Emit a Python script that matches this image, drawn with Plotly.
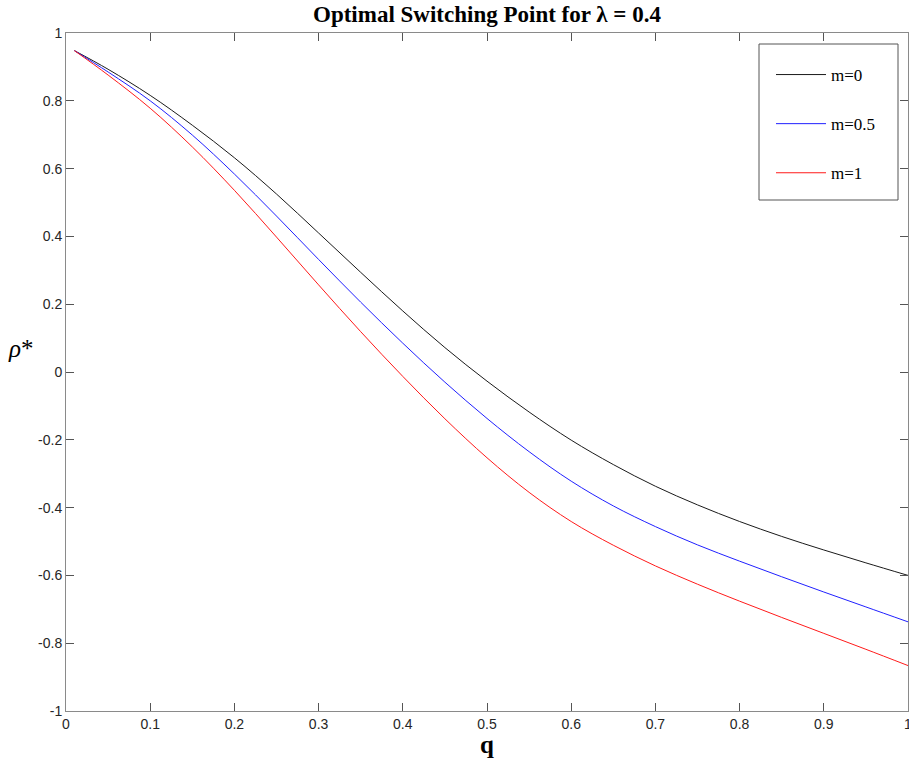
import plotly.graph_objects as go

q = [0.01, 0.05, 0.1, 0.15, 0.2, 0.25, 0.3, 0.35, 0.4, 0.45, 0.5,
     0.55, 0.6, 0.65, 0.7, 0.75, 0.8, 0.85, 0.9, 0.95, 1.0]
rho_m0 = [0.948, 0.893, 0.816, 0.728, 0.632, 0.525, 0.410, 0.294, 0.180, 0.072, -0.027,
          -0.118, -0.201, -0.273, -0.337, -0.392, -0.441, -0.485, -0.525, -0.563, -0.600]
rho_m05 = [0.948, 0.885, 0.800, 0.699, 0.584, 0.460, 0.332, 0.206, 0.085, -0.030, -0.137,
           -0.235, -0.322, -0.395, -0.456, -0.510, -0.558, -0.604, -0.649, -0.693, -0.737]
rho_m1 = [0.948, 0.876, 0.778, 0.664, 0.536, 0.398, 0.257, 0.119, -0.013, -0.138, -0.253,
          -0.355, -0.441, -0.511, -0.572, -0.626, -0.676, -0.724, -0.771, -0.818, -0.866]
series_names = ["m=0", "m=0.5", "m=1"]
series_colors = ["#1a1a1a", "#2020ff", "#ff1a1a"]
x_ticks = [0, 0.1, 0.2, 0.3, 0.4, 0.5, 0.6, 0.7, 0.8, 0.9, 1]
x_tick_labels = ["0", "0.1", "0.2", "0.3", "0.4", "0.5", "0.6", "0.7", "0.8", "0.9", "1"]
y_ticks = [-1, -0.8, -0.6, -0.4, -0.2, 0, 0.2, 0.4, 0.6, 0.8, 1]
y_tick_labels = ["-1", "-0.8", "-0.6", "-0.4", "-0.2", "0", "0.2", "0.4", "0.6", "0.8", "1"]

fig = go.Figure()
for name, ys, col in zip(series_names, [rho_m0, rho_m05, rho_m1], series_colors):
    fig.add_trace(go.Scatter(x=q, y=ys, mode="lines", name=name, legendgroup=name,
                             line=dict(color=col, width=1, shape="spline", smoothing=1.0)))

axis_common = dict(showline=True, linecolor="#8a8a8a", linewidth=1, mirror="ticks",
                   ticks="inside", ticklen=8, tickcolor="#555555", tickwidth=1,
                   showgrid=False, zeroline=False, automargin=False,
                   ticklabeloverflow="allow",
                   tickfont=dict(family="Liberation Sans, Arial, sans-serif", size=14, color="#262626"))

W, H = 909, 772
L, R, T, B = 66, 1, 33, 61
pw, ph = W - L - R, H - T - B


def px_x(x):
    return (x - L) / pw


def px_y(y):
    return 1 - (y - T) / ph


fig.update_layout(
    width=W, height=H,
    margin=dict(l=L, r=R, t=T, b=B, autoexpand=False),
    plot_bgcolor="white", paper_bgcolor="white",
    title=dict(text="<b>Optimal Switching Point for λ = 0.4</b>",
               x=0.5, xanchor="center", y=1 - 14 / H, yanchor="middle",
               xref="paper", yref="container",
               font=dict(family="Liberation Serif, Times New Roman, serif", size=23, color="black")),
    xaxis=dict(range=[0, 1], tickvals=x_ticks, ticktext=x_tick_labels, **axis_common),
    yaxis=dict(range=[-1, 1], tickvals=y_ticks, ticktext=y_tick_labels, **axis_common),
    legend=dict(x=px_x(771), xanchor="left", y=px_y(57), yanchor="top",
                bgcolor="rgba(0,0,0,0)", borderwidth=0,
                traceorder="grouped", tracegroupgap=24, itemwidth=50,
                font=dict(family="Liberation Serif, Times New Roman, serif", size=17, color="black")),
    shapes=[dict(type="rect", xref="paper", yref="paper",
                 x0=px_x(759), x1=px_x(898), y0=px_y(200), y1=px_y(44),
                 line=dict(color="#555555", width=1), fillcolor="white", layer="below")],
    annotations=[
        dict(text="<b>q</b>", xref="paper", yref="paper", x=0.5, y=0, yshift=-33,
             xanchor="center", yanchor="middle", showarrow=False,
             font=dict(family="Liberation Serif, Times New Roman, serif", size=25, color="black")),
        dict(text="<i>ρ</i>*", xref="paper", yref="paper", x=0, y=0.5, xshift=-45, yshift=24,
             xanchor="center", yanchor="middle", showarrow=False,
             font=dict(family="Liberation Serif, Times New Roman, serif", size=25, color="black")),
    ],
)

fig.write_html("out.html", config={"displayModeBar": False},
               post_script="document.body.style.margin='0px';")
